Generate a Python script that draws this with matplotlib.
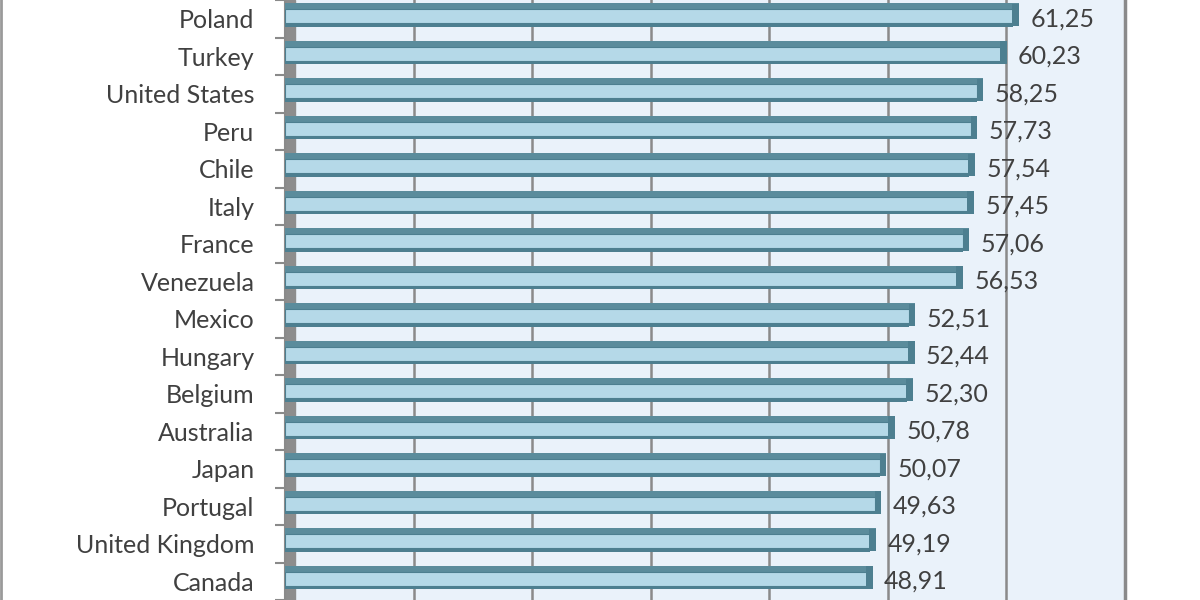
import matplotlib.pyplot as plt
from matplotlib.lines import Line2D

# Data (top to bottom, as shown in the crop)
countries = ['Poland', 'Turkey', 'United States', 'Peru', 'Chile', 'Italy', 'France',
             'Venezuela', 'Mexico', 'Hungary', 'Belgium', 'Australia', 'Japan',
             'Portugal', 'United Kingdom', 'Canada']
values = [61.25, 60.23, 58.25, 57.73, 57.54, 57.45, 57.06, 56.53,
          52.51, 52.44, 52.30, 50.78, 50.07, 49.63, 49.19, 48.91]
grid_ticks = [10, 20, 30, 40, 50, 60]

plt.rcParams['font.family'] = ['Lato', 'DejaVu Sans']

fig = plt.figure(figsize=(12, 6), dpi=100)
fig.patch.set_facecolor('white')
ax = fig.add_axes([285 / 1200, 0, 840 / 1200, 1])
ax.set_facecolor('#eaf2fa')

x0 = -0.675
depth = 0.2  # back-wall offset of the 3D gridlines
light = '#b5d9e8'
dark = '#5b8c9c'
edge = '#4d7f90'
text_c = '#404040'
fs = 18

# left "wall" of the 3D chart
ax.axvspan(x0, 0.2, color='#8d8d8d', zorder=1)

# gridlines on the back wall
for g in grid_ticks:
    ax.axvline(g + depth, color='#8a8a8a', lw=1.8, zorder=1)

for i, v in enumerate(values):
    # top face
    ax.barh(i - 0.3295, v - x0, height=0.157, left=x0,
            color=dark, zorder=3)
    # front face
    ax.barh(i - 0.0675, v - x0 - 0.5, height=0.367, left=x0,
            color=light, edgecolor=edge, linewidth=0.8, zorder=4)
    # bottom edge
    ax.barh(i + 0.162, v - x0 - 0.5, height=0.092, left=x0,
            color=edge, zorder=4)
    # right end cap
    ax.barh(i - 0.1, 0.55, height=0.6, left=v - 0.55,
            color=edge, zorder=5)
    ax.text(v + 0.95, i, f'{v:.2f}'.replace('.', ','), va='center', ha='left',
            fontsize=fs, color=text_c, zorder=6)

ax.set_xlim(x0, 70.2)
ax.set_ylim(15.343, -0.388)

ax.set_yticks(range(len(countries)))
ax.set_yticklabels(countries, fontsize=fs, color=text_c)
ax.tick_params(axis='y', which='major', length=0, pad=22)
ax.set_yticks([i + 0.5 for i in range(-1, len(countries))], minor=True)
ax.tick_params(axis='y', which='minor', length=7, width=1.5, color='#8a8a8a',
               direction='out')
ax.set_xticks([])

for side in ['top', 'bottom']:
    ax.spines[side].set_visible(False)
ax.spines['left'].set_color('#8a8a8a')
ax.spines['left'].set_linewidth(1.5)
ax.spines['right'].set_color('#8a8a8a')
ax.spines['right'].set_linewidth(2.5)

# outer frame line on the left edge
fig.add_artist(Line2D([0.001, 0.001], [0, 1], color='#9a9a9a', lw=2,
                      transform=fig.transFigure))

fig.savefig('out.png', dpi=100)
